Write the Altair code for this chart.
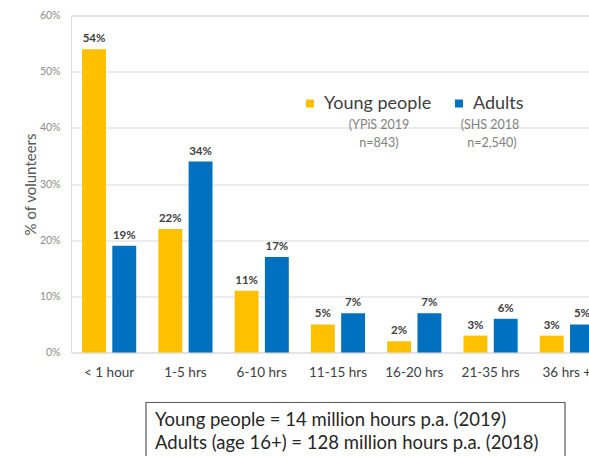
import altair as alt
import pandas as pd

categories = ["< 1 hour", "1-5 hrs", "6-10 hrs", "11-15 hrs", "16-20 hrs", "21-35 hrs", "36 hrs +"]
young = [0.54, 0.22, 0.11, 0.05, 0.02, 0.03, 0.03]
adults = [0.19, 0.34, 0.17, 0.07, 0.07, 0.06, 0.05]
series = ["Young people", "Adults"]
colors = ["#FFC000", "#0070C0"]
sub_young = ["(YPiS 2019", "n=843)"]
sub_adult = ["(SHS 2018", "n=2,540)"]
note_lines = ["Young people = 14 million hours p.a. (2019)",
              "Adults (age 16+) = 128 million hours p.a. (2018)"]

rows = []
for c, y, a in zip(categories, young, adults):
    rows.append({"cat": c, "series": "Young people", "value": y})
    rows.append({"cat": c, "series": "Adults", "value": a})
df = pd.DataFrame(rows)

FONT = "Lato"
W = 518
H = 337

xenc = alt.X("cat:N", sort=categories, title=None,
             scale=alt.Scale(range=[0, 534], paddingInner=0.29, paddingOuter=0.145),
             axis=alt.Axis(labelAngle=0, labelFontSize=13.5, labelColor="#404040",
                           labelFont=FONT, ticks=False, domain=False, labelPadding=13,
                           labelOverlap=False, labelBound=False))
xoff = alt.XOffset("series:N", sort=series,
                   scale=alt.Scale(paddingInner=0.21, paddingOuter=0))
yenc = alt.Y("value:Q", title="% of volunteers",
             scale=alt.Scale(domain=[0, 0.6], nice=False),
             axis=alt.Axis(format=".0%", values=[0, 0.1, 0.2, 0.3, 0.4, 0.5, 0.6],
                           labelFontSize=10.5, labelColor="#8c8c8c", labelFont=FONT,
                           ticks=False, domain=False, labelPadding=11,
                           gridColor="#d9d9d9", gridWidth=1,
                           titleFontSize=15, titleColor="#595959", titleFont=FONT,
                           titleFontWeight="normal", titlePadding=1))

bars = alt.Chart(df).mark_bar().encode(
    x=xenc, xOffset=xoff, y=yenc,
    color=alt.Color("series:N", sort=series,
                    scale=alt.Scale(domain=series, range=colors),
                    legend=alt.Legend(title=None, orient="none", direction="horizontal",
                                      legendX=230, legendY=79,
                                      symbolType="square", symbolSize=64,
                                      symbolStrokeWidth=0,
                                      labelFontSize=18, labelFont=FONT,
                                      labelColor="#404040", labelOffset=5,
                                      columnPadding=18))
)

labels = alt.Chart(df).mark_text(baseline="alphabetic", dy=-7, fontSize=11.5,
                                 font=FONT, fontWeight="bold", color="#404040").encode(
    x=alt.X("cat:N", sort=categories), xOffset=alt.XOffset("series:N", sort=series),
    y="value:Q", text=alt.Text("value:Q", format=".0%")
)

sub_df = pd.DataFrame({
    "t": sub_young + sub_adult,
    "px": [308, 308, 419, 421],
    "py": [109, 127, 109, 127],
})
subs = alt.Chart(sub_df).mark_text(fontSize=12.5, font=FONT, color="#7f7f7f",
                                   align="center", baseline="middle").encode(
    x=alt.X("px:Q", scale=None), y=alt.Y("py:Q", scale=None), text="t:N"
)

box = alt.Chart(pd.DataFrame({"a": [0]})).mark_rect(
    fill="white", stroke="#595959", strokeWidth=1.2).encode(
    x=alt.value(75), x2=alt.value(494), y=alt.value(387), y2=alt.value(460)
)

note_df = pd.DataFrame({"t": note_lines, "py": [404.5, 427.5]})
notes = alt.Chart(note_df).mark_text(fontSize=18.5, font=FONT, color="#262626",
                                     align="left", baseline="middle").encode(
    x=alt.value(84), y=alt.Y("py:Q", scale=None), text="t:N"
)

chart = alt.layer(bars, labels, subs, box, notes).properties(
    width=W, height=H,
    autosize=alt.AutoSizeParams(type="none"),
    padding={"left": 71, "top": 15.5, "right": 0, "bottom": 103.5},
).configure_view(stroke=None).configure(background="white")

chart.save("out.html", embed_options={"renderer": "svg", "actions": False})
